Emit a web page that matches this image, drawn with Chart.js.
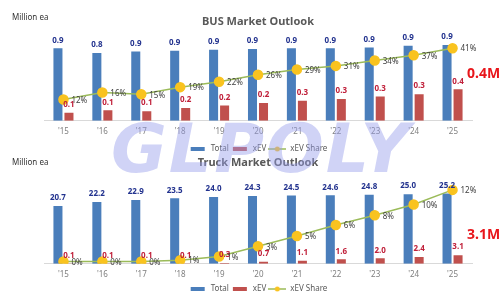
<!DOCTYPE html>
<html>
<head>
<meta charset="utf-8">
<script src="https://cdn.jsdelivr.net/npm/chart.js@4"></script>
<style>
  html, body { margin: 0; padding: 0; background: #fff; }
  #wrap { position: relative; width: 500px; height: 292px; overflow: hidden; font-family: "Noto Sans", sans-serif; }
  canvas { position: absolute; left: 0; }
  .unit { position: absolute; left: 12px; font-size: 8px; color: #333; }
  .big { position: absolute; left: 467px; font-size: 14px; font-weight: bold; color: #e8161b; }
  #mark { position: absolute; left: 111px; top: 115px; font-family: "DejaVu Sans", sans-serif; font-weight: bold;
          font-style: italic; font-size: 68px; line-height: 1; letter-spacing: 2px; color: rgba(150, 158, 235, 0.45);
          pointer-events: none; white-space: nowrap; }
</style>
</head>
<body>
<div id="wrap">
  <canvas id="bus-chart" width="500" height="163" style="top:0"></canvas>
  <canvas id="truck-chart" width="500" height="153" style="top:150px"></canvas>
  <div class="unit" style="top:11px">Million ea</div>
  <div class="unit" style="top:156px">Million ea</div>
  <div class="big" style="top:63px">0.4M</div>
  <div class="big" style="top:224px">3.1M</div>
  <div id="mark">GLPOLY</div>
</div>
<script>
const years = ["'15", "'16", "'17", "'18", "'19", "'20", "'21", "'22", "'23", "'24", "'25"];

const busTotal = [0.90, 0.84, 0.86, 0.87, 0.88, 0.89, 0.90, 0.90, 0.91, 0.93, 0.94];
const busXev = [0.10, 0.13, 0.12, 0.16, 0.19, 0.22, 0.25, 0.27, 0.30, 0.33, 0.39];
const busShare = [12, 16, 15, 19, 22, 26, 29, 31, 34, 37, 41];

const truckTotal = [20.7, 22.2, 22.9, 23.5, 24.0, 24.3, 24.5, 24.6, 24.8, 25.0, 25.2];
const truckXev = [0.1, 0.1, 0.1, 0.1, 0.3, 0.7, 1.1, 1.6, 2.0, 2.4, 3.1];
const truckShare = [0.4, 0.4, 0.4, 0.6, 1.2, 2.9, 4.6, 6.4, 8.0, 9.8, 12.2];

const BLUE = '#4a7ebb';
const RED = '#c0504d';
const GREEN = '#9bbb59';
const YELLOW = '#f9c31f';

// little pictures for the legend
function swatch(kind, color) {
    const c = document.createElement('canvas');
    c.width = 18; c.height = 8;
    const g = c.getContext('2d');
    if (kind === 'bar') {
        g.fillStyle = color;
        g.fillRect(2, 2, 14, 4);
    } else {
        g.strokeStyle = GREEN; g.lineWidth = 1.5;
        g.beginPath(); g.moveTo(0, 4); g.lineTo(18, 4); g.stroke();
        g.fillStyle = YELLOW;
        g.beginPath(); g.arc(9, 4, 2.5, 0, Math.PI * 2); g.fill();
    }
    return c;
}
const legendPics = [swatch('bar', BLUE), swatch('bar', RED), swatch('line')];

const valueLabels = {
    id: 'valueLabels',
    afterDatasetsDraw(chart) {
        const ctx = chart.ctx;
        chart.data.datasets.forEach((ds, i) => {
            const meta = chart.getDatasetMeta(i);
            meta.data.forEach((el, j) => {
                const v = ds.data[j];
                ctx.save();
                if (ds.type === 'line') {
                    ctx.font = '8px "Noto Sans"';
                    ctx.fillStyle = '#404040';
                    ctx.textAlign = 'left';
                    ctx.textBaseline = 'middle';
                    ctx.fillText(Math.round(v) + '%', el.x + 8, el.y + 1);
                } else {
                    ctx.font = 'bold 8px "Noto Sans"';
                    ctx.fillStyle = ds.labelColor;
                    ctx.textAlign = 'center';
                    ctx.textBaseline = 'bottom';
                    ctx.fillText(v.toFixed(1), el.x, el.y - 4);
                }
                ctx.restore();
            });
        });
    }
};

function makeChart(id, title, total, xev, share, yMax, y2Max, titlePad, extraGap) {
    const ctx = document.getElementById(id).getContext('2d');
    return new Chart(ctx, {
        type: 'bar',
        data: {
            labels: years,
            datasets: [
                { label: 'Total', data: total, backgroundColor: BLUE, labelColor: '#23338f', order: 1,
                  categoryPercentage: 0.566, barPercentage: 0.82, yAxisID: 'y' },
                { label: 'xEV', data: xev, backgroundColor: RED, labelColor: '#c0203a', order: 1,
                  categoryPercentage: 0.566, barPercentage: 0.82, yAxisID: 'y' },
                { type: 'line', label: 'xEV Share', data: share, borderColor: GREEN, borderWidth: 1.5,
                  pointRadius: 4.5, pointBackgroundColor: YELLOW, pointBorderColor: YELLOW, order: 0,
                  tension: 0, yAxisID: 'y2' }
            ]
        },
        options: {
            responsive: false,
            animation: false,
            devicePixelRatio: 1,
            layout: { padding: { left: 44, right: 28, top: 0, bottom: 0 } },
            plugins: {
                title: { display: true, text: title, color: '#595959',
                         font: { family: '"Noto Sans"', size: 11, weight: 'bold' }, padding: titlePad },
                legend: {
                    position: 'bottom',
                    labels: {
                        usePointStyle: true, pointStyleWidth: 18, boxHeight: 8, padding: 2,
                        color: '#595959', font: { family: '"Noto Sans"', size: 8 },
                        sort: (a, b) => a.datasetIndex - b.datasetIndex,
                        generateLabels(chart) {
                            const items = Chart.defaults.plugins.legend.labels.generateLabels(chart);
                            items.forEach(it => { it.pointStyle = legendPics[it.datasetIndex]; });
                            return items;
                        }
                    }
                },
                tooltip: { enabled: false }
            },
            scales: {
                x: {
                    grid: { display: false, drawTicks: false },
                    border: { display: true, color: '#d9d9d9' },
                    ticks: { color: '#7f7f7f', font: { family: '"Noto Sans"', size: 8 }, padding: 6 },
                    afterFit(scale) { scale.height += extraGap; }
                },
                y: { display: false, min: 0, max: yMax },
                y2: { display: false, min: 0, max: y2Max, position: 'right' }
            }
        },
        plugins: [valueLabels]
    });
}

makeChart('bus-chart', 'BUS Market Outlook', busTotal, busXev, busShare, 1.0, 45.5, { top: 15, bottom: 12 }, 0.6);
makeChart('truck-chart', 'Truck Market Outlook', truckTotal, truckXev, truckShare, 30, 13.8, { top: 6, bottom: 11 }, -2.4);
</script>
</body>
</html>
